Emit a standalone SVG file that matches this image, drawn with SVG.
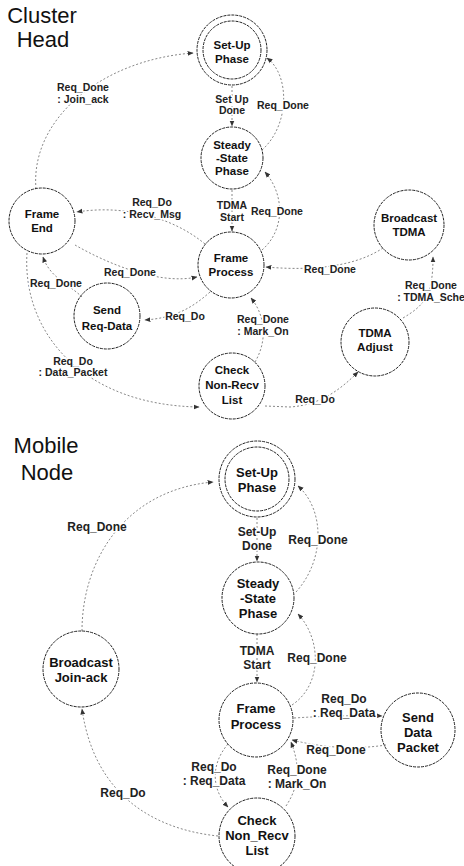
<svg xmlns="http://www.w3.org/2000/svg" width="464" height="866" viewBox="0 0 464 866">
<defs>
<marker id="arr" viewBox="0 0 10 10" refX="9" refY="5" markerWidth="6" markerHeight="6" orient="auto" markerUnits="userSpaceOnUse">
<path d="M0,1 L10,5 L0,9 z" fill="#333"/>
</marker>
</defs>
<style>
.title{font-family:"Liberation Sans",Arial,sans-serif;font-size:22px;fill:#111;text-anchor:middle}
.node circle{fill:none;stroke:#222;stroke-width:1;stroke-dasharray:3,1}
.node text{font-family:"Liberation Sans",Arial,sans-serif;font-weight:bold;font-size:11.5px;fill:#111;text-anchor:middle}
.big text{font-size:13px}
.conn path{fill:none;stroke:#888;stroke-width:1;stroke-dasharray:2,2;marker-end:url(#arr)}
.lbl text{font-family:"Liberation Sans",Arial,sans-serif;font-weight:bold;font-size:10.5px;fill:#222;text-anchor:middle;stroke:#fff;stroke-width:3;paint-order:stroke;stroke-linejoin:round}
.lbl2 text{font-size:12px}
</style>
<rect width="464" height="866" fill="#fff"/>

<text class="title" x="42" y="23">Cluster</text>
<text class="title" x="43" y="47">Head</text>
<text class="title" x="46" y="453">Mobile</text>
<text class="title" x="47" y="480">Node</text>

<g id="connectors">
<g class="conn">
<!-- Cluster Head -->
<path d="M36 189 C30 120 100 60 193 53"/>
<path d="M232 86 L232 126"/>
<path d="M262 150 C290 125 290 75 267 58"/>
<path d="M232 190 L232 231"/>
<path d="M262 250 C285 230 285 195 265 172"/>
<path d="M205 244 C170 215 120 205 77 212"/>
<path d="M75 245 C110 265 160 285 197 277"/>
<path d="M383 248 C350 270 300 270 266 267"/>
<path d="M403 318 C425 305 433 295 433 257"/>
<path d="M265 406 L290 407 C320 405 340 390 358 372"/>
<path d="M255 362 C268 340 265 315 251 298"/>
<path d="M210 292 C190 310 172 318 145 320"/>
<path d="M82 297 C70 285 50 278 43 257"/>
<path d="M27 253 C22 330 80 405 199 407"/>
<!-- Mobile Node -->
<path d="M82 631 C82 560 125 490 213 482"/>
<path d="M257 518 L257 561"/>
<path d="M296 592 C325 560 325 510 298 486"/>
<path d="M257 634 L257 682"/>
<path d="M292 705 C322 685 322 640 298 614"/>
<path d="M294 718 Q340 715 382 716"/>
<path d="M386 745 Q340 752 292 740"/>
<path d="M228 744 C210 765 212 790 228 807"/>
<path d="M286 806 C300 785 300 765 291 742"/>
<path d="M218 836 C160 830 95 800 82 709"/>
</g>
<g class="lbl">
<text x="83" y="91">Req_Done</text><text x="83" y="103">: Join_ack</text>
<text x="232" y="103">Set Up</text><text x="232" y="114">Done</text>
<text x="283" y="109">Req_Done</text>
<text x="232" y="209">TDMA</text><text x="232" y="221">Start</text>
<text x="277" y="215">Req_Done</text>
<text x="152" y="206">Req_Do</text><text x="152" y="218">: Recv_Msg</text>
<text x="130" y="276">Req_Done</text>
<text x="330" y="273">Req_Done</text>
<text x="431" y="289">Req_Done</text><text x="431" y="301">: TDMA_Sche</text>
<text x="56" y="287">Req_Done</text>
<text x="185" y="320">Req_Do</text>
<text x="263" y="323">Req_Done</text><text x="263" y="335">: Mark_On</text>
<text x="73" y="365">Req_Do</text><text x="73" y="376">: Data_Packet</text>
<text x="315" y="403">Req_Do</text>
</g>
<g class="lbl lbl2">
<text x="97" y="531">Req_Done</text>
<text x="257" y="536">Set-Up</text><text x="257" y="550">Done</text>
<text x="318" y="544">Req_Done</text>
<text x="257" y="655">TDMA</text><text x="257" y="669">Start</text>
<text x="317" y="662">Req_Done</text>
<text x="344" y="703">Req_Do</text><text x="344" y="717">: Req_Data</text>
<text x="336" y="754">Req_Done</text>
<text x="214" y="771">Req_Do</text><text x="214" y="785">: Req_Data</text>
<text x="297" y="774">Req_Done</text><text x="297" y="788">: Mark_On</text>
<text x="123" y="797">Req_Do</text>
</g>
</g>

<g id="ch_setup" class="node"><circle cx="232" cy="50" r="35"/><circle cx="232" cy="50" r="29"/><text x="232" y="49">Set-Up</text><text x="232" y="63">Phase</text></g>
<g id="ch_steady" class="node"><circle cx="232" cy="158" r="31"/><text x="232" y="149">Steady</text><text x="232" y="162">-State</text><text x="232" y="175">Phase</text></g>
<g id="ch_frame" class="node"><circle cx="231" cy="265" r="33"/><text x="231" y="262">Frame</text><text x="231" y="276">Process</text></g>
<g id="ch_frameend" class="node"><circle cx="42" cy="221" r="33"/><text x="42" y="218">Frame</text><text x="42" y="232">End</text></g>
<g id="ch_sendreq" class="node"><circle cx="107" cy="316" r="33"/><text x="107" y="314">Send</text><text x="107" y="330">Req-Data</text></g>
<g id="ch_check" class="node"><circle cx="232" cy="386" r="33"/><text x="232" y="374">Check</text><text x="232" y="389">Non-Recv</text><text x="232" y="404">List</text></g>
<g id="ch_btdma" class="node"><circle cx="409" cy="225" r="35"/><text x="409" y="222">Broadcast</text><text x="409" y="236">TDMA</text></g>
<g id="ch_tadjust" class="node"><circle cx="375" cy="342" r="34"/><text x="375" y="337">TDMA</text><text x="375" y="351">Adjust</text></g>

<g id="mn_setup" class="node big"><circle cx="257" cy="479" r="38"/><circle cx="257" cy="479" r="32"/><text x="257" y="477">Set-Up</text><text x="257" y="492">Phase</text></g>
<g id="mn_steady" class="node big"><circle cx="258" cy="598" r="36"/><text x="258" y="588">Steady</text><text x="258" y="603">-State</text><text x="258" y="618">Phase</text></g>
<g id="mn_frame" class="node big"><circle cx="256" cy="720" r="37"/><text x="256" y="713">Frame</text><text x="256" y="729">Process</text></g>
<g id="mn_senddata" class="node big"><circle cx="418" cy="730" r="37"/><text x="418" y="722">Send</text><text x="418" y="737">Data</text><text x="418" y="752">Packet</text></g>
<g id="mn_check" class="node big"><circle cx="257" cy="836" r="38"/><text x="257" y="825">Check</text><text x="257" y="840">Non_Recv</text><text x="257" y="855">List</text></g>
<g id="mn_bjoin" class="node big"><circle cx="81" cy="669" r="38"/><text x="81" y="667">Broadcast</text><text x="81" y="682">Join-ack</text></g>
</svg>
